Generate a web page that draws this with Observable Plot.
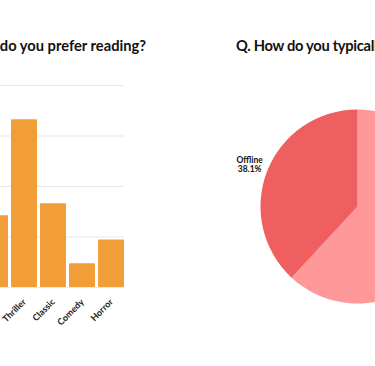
<!DOCTYPE html>
<html><head><meta charset="utf-8">
<script src="https://cdn.jsdelivr.net/npm/d3@7"></script>
<script src="https://cdn.jsdelivr.net/npm/@observablehq/plot@0.6"></script>
<style>
html,body{margin:0;padding:0;background:#fff;}
#wrap{position:relative;width:375px;height:366px;overflow:hidden;background:#fff;font-family:Lato, "Open Sans", sans-serif;}
.title{position:absolute;font-weight:700;font-size:14.7px;line-height:20px;color:#111;white-space:nowrap;}
.panel{position:absolute;}
.panel svg{max-width:none !important;}
</style>
</head><body>
<div id="wrap">
  <div class="title" id="t1" style="right:229px;top:35px;">Q. What genre do you prefer reading?</div>
  <div class="title" id="t2" style="left:236px;top:35px;letter-spacing:-0.3px;">Q. How do you typically read books?</div>
  <div class="panel" id="bars" style="left:-59px;top:75px;"></div>
  <div class="panel" id="pie" style="left:211.5px;top:60.5px;width:291px;"></div>
</div>
<script>
// Bar chart data (genre preference)
const genres = ["Mystery", "Thriller", "Classic", "Comedy", "Horror"];
const genreValues = [7.1, 16.6, 8.3, 2.35, 4.7];
const yTicks = [0, 5, 10, 15, 20];

// Pie chart data (reading mode)
const modes = ["Online", "Offline"];
const modeShares = [61.9, 38.1];
const modeColors = ["#ff9898", "#ef5f5f"];

const barData = genres.map((g, i) => ({genre: g, value: genreValues[i]}));

const bars = Plot.plot({
  width: 193, height: 262,
  marginLeft: 40, marginRight: 10.3, marginTop: 10, marginBottom: 50,
  style: {fontFamily: "Lato, sans-serif", fontSize: "9px", fontWeight: 700, color: "#222", background: "transparent"},
  x: {domain: genres, paddingInner: 0.12, paddingOuter: 0, label: null, tickRotate: -45, tickSize: 0, tickPadding: 13},
  y: {domain: [0, 20], ticks: yTicks, grid: true, label: null, tickSize: 0},
  marks: [
    Plot.barY(barData, {x: "genre", y: "value", fill: "#f19d38", rx: 1})
  ]
});
document.getElementById("bars").appendChild(bars);

const pieInput = modes.map((m, i) => ({mode: m, share: modeShares[i], color: modeColors[i]}));
const arcs = d3.pie().sort(null).value(d => d.share)(pieInput);
const labelData = arcs.map(a => {
  const mid = (a.startAngle + a.endAngle) / 2;
  return {x: 1.2 * Math.sin(mid), y: 1.2 * Math.cos(mid), text: `${a.data.mode}\n${a.data.share}%`};
});

const pie = Plot.plot({
  width: 291, height: 291,
  margin: 0,
  x: {domain: [-1.5, 1.5], axis: null},
  y: {domain: [-1.5, 1.5], axis: null},
  style: {fontFamily: "Lato, sans-serif", background: "transparent", maxWidth: "none"},
  marks: [
    (index, scales) => {
      const cx = scales.x(0), cy = scales.y(0), r = scales.x(1) - scales.x(0);
      const arc = d3.arc().innerRadius(0).outerRadius(r);
      const g = d3.create("svg:g").attr("transform", `translate(${cx},${cy})`);
      g.selectAll("path").data(arcs).join("path")
        .attr("d", arc).attr("fill", d => d.data.color);
      return g.node();
    },
    Plot.text(labelData, {x: "x", y: "y", text: "text", fontSize: 8.5, fontWeight: 700, fill: "#111", lineHeight: 1.1})
  ]
});
document.getElementById("pie").appendChild(pie);
</script>
</body></html>
